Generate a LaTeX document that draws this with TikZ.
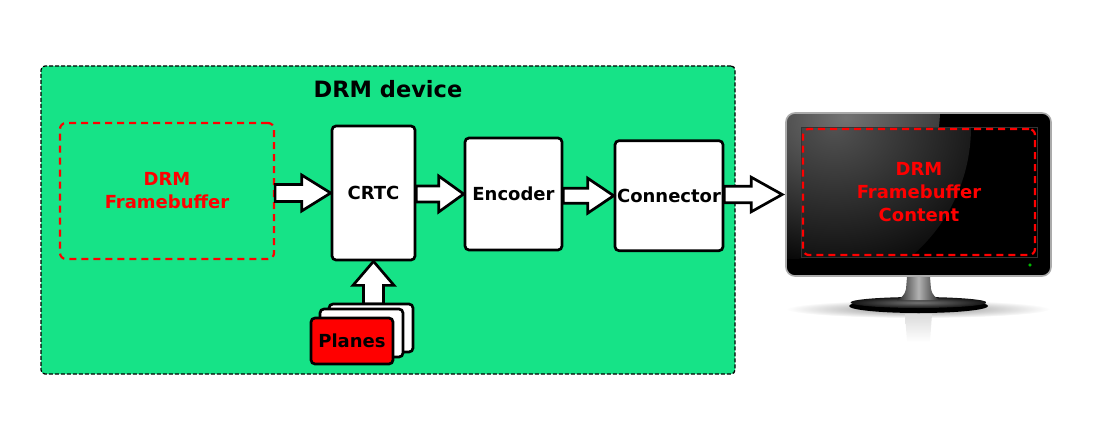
\documentclass[tikz,border=0pt]{standalone}
\usepackage{fontspec}
\setmainfont{DejaVu Sans}
\usetikzlibrary{calc}
\definecolor{drmgreen}{RGB}{22,227,135}
\newcommand\harrow[5]{\draw[barrow] let \p1=#1, \p2=#2 in
  (\x1,\y2+#3) -- (\x2-#5,\y2+#3) -- (\x2-#5,\y2+#4) -- (\x2,\y2) --
  (\x2-#5,\y2-#4) -- (\x2-#5,\y2-#3) -- (\x1,\y2-#3) -- cycle;}
\newcommand\varrow[5]{\draw[barrow] let \p1=#1, \p2=#2 in
  (\x2+#3,\y1) -- (\x2+#3,\y2-#5) -- (\x2+#4,\y2-#5) -- (\x2,\y2) --
  (\x2-#4,\y2-#5) -- (\x2-#3,\y2-#5) -- (\x2-#3,\y1) -- cycle;}
\begin{document}
\begin{tikzpicture}[x=1pt,y=-1pt,
  lbl/.style={font=\bfseries\fontsize{18}{23}\selectfont, align=center},
  box/.style={lbl, draw, line width=2.7pt, fill=white, rounded corners=4pt, inner sep=0pt},
  fbbox/.style={lbl, draw=red, line width=2.2pt, dash pattern=on 7pt off 5pt, rounded corners=6pt, inner sep=0pt, text=red},
  barrow/.style={draw, fill=white, line width=2.7pt, line join=miter, miter limit=10},
]
\useasboundingbox (0,0) rectangle (1100,436);
% DRM device area
\node[draw, dash pattern=on 4pt off 2pt, line width=1.3pt, fill=drmgreen, rounded corners=4pt,
      minimum width=694pt, minimum height=308pt, inner sep=0pt] (device) at (388,220) {};
\node[font=\bfseries\fontsize{22.5}{27}\selectfont] (devtitle) at (388,89.5) {DRM device};
% blocks
\node[fbbox, minimum width=214pt, minimum height=136pt] (fb) at (167,191) {DRM\\Framebuffer};
\node[box, minimum width=83pt, minimum height=134pt] (crtc) at (373.5,193) {CRTC};
\node[box, minimum width=97pt, minimum height=112pt] (encoder) at (513.5,194) {Encoder};
\node[box, minimum width=108pt, minimum height=110pt] (connector) at (669,195.7) {Connector};
% monitor
\node[draw=black!33, line width=1.6pt, fill=black, rounded corners=9pt, minimum width=265pt,
      minimum height=163pt, inner sep=0pt,
      path picture={\shade[inner color=black!55, outer color=black] ($(path picture bounding box.north west)+(4,-4)$) circle (150pt);}]
      (monitor) at (918.5,194.5) {};
\node[draw=black!80, line width=0.8pt, fill=black, minimum width=236pt, minimum height=130pt, inner sep=0pt,
      path picture={\shade[inner color=black!68, outer color=black] (path picture bounding box.north west) circle (170pt);}]
      (screen) at (919,192) {};
\node[fbbox, minimum width=232pt, minimum height=126pt] (content) at (919,192) {DRM\\Framebuffer\\Content};
\fill[green!55!black] (1030,265) circle (1.8pt);
\fill[green!90!black] (1030,265) circle (0.9pt);
% stand
\shade[inner color=black!45, outer color=white] (918,309) ellipse (132pt and 9pt);
\shade[top color=black!14, bottom color=white] (905,314) -- (932,314) -- (930,342) -- (907,342) -- cycle;
\fill[black] (918.5,306) ellipse (69.5pt and 7pt);
\shade[inner color=black!55, outer color=black!92] (918.5,302.5) ellipse (68pt and 5.5pt);
\shade[left color=black!85, right color=black!85, middle color=black!30]
  (907,277) -- (930,277) -- (931,289) .. controls (932,295) and (936,298) .. (940,300)
  -- (897,300) .. controls (901,298) and (905,295) .. (906,289) -- cycle;
\coordinate (montip) at ($(monitor.west)+(-3,0)$);
% block arrows
\harrow{(fb.east)}{(crtc.west)}{8.5pt}{18pt}{29pt}
\harrow{(crtc.east)}{(encoder.west)}{8pt}{18pt}{25pt}
\harrow{(encoder.east)}{(connector.west)}{7.5pt}{17.5pt}{26pt}
\harrow{(connector.east)}{(montip)}{8.3pt}{17.3pt}{31pt}
% planes
\coordinate (planestop) at (372,304);
\varrow{(planestop)}{(crtc.south)}{10pt}{20.5pt}{24pt}
\node[box, minimum width=84pt, minimum height=48pt] (planes3) at (371,328) {};
\node[box, minimum width=83pt, minimum height=48pt] (planes2) at (361.5,333) {};
\node[box, fill=red, minimum width=82pt, minimum height=46pt] (planes) at (352,341) {Planes};
\end{tikzpicture}
\end{document}
